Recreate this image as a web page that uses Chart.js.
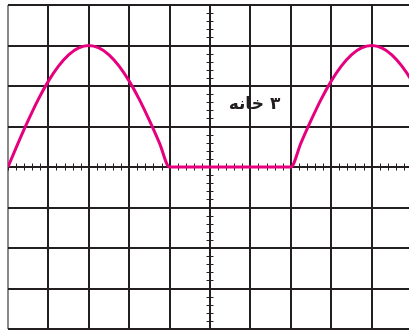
<!DOCTYPE html>
<html>
<head>
<meta charset="utf-8">
<script src="https://cdn.jsdelivr.net/npm/chart.js@4/dist/chart.umd.min.js"></script>
<style>
    html, body { margin: 0; padding: 0; background: #fff; }
    #wrap { width: 409px; height: 331px; overflow: hidden; }
</style>
</head>
<body>
<div id="wrap"><canvas id="scope" width="416" height="331"></canvas></div>
<script>
// positions in grid squares (x) and signal height in squares (y)
const waveX = [0, 0.25, 0.5, 0.75, 1, 1.25, 1.5, 1.75, 2, 2.25, 2.5, 2.75, 3, 3.25, 3.5, 3.75, 4,
    5, 6, 7, 7.25, 7.5, 7.75, 8, 8.25, 8.5, 8.75, 9, 9.25, 9.5, 9.75, 10, 10.25];
const waveY = [0, 0.59, 1.15, 1.67, 2.12, 2.49, 2.77, 2.94, 3, 2.94, 2.77, 2.49, 2.12, 1.67, 1.15, 0.59, 0,
    0, 0, 0, 0.59, 1.15, 1.67, 2.12, 2.49, 2.77, 2.94, 3, 2.94, 2.77, 2.49, 2.12, 1.67];
const xRange = [0, 10];
const yRange = [-4, 4];
const labelText = '۳ خانه';
const labelPos = [6.1, 1.55];

document.addEventListener('DOMContentLoaded', () => {
    const canvas = document.getElementById('scope');

    // small tick marks along the two centre axes, plus the label
    const axisTicks = {
        id: 'axisTicks',
        beforeDatasetsDraw(chart) {
            const { ctx, scales: { x, y } } = chart;
            const cx = x.getPixelForValue(5);
            const cy = y.getPixelForValue(0);
            ctx.save();
            ctx.strokeStyle = '#231f20';
            ctx.lineWidth = 1;
            ctx.beginPath();
            for (let i = 0; i <= 50; i++) {
                const px = Math.round(x.getPixelForValue(i / 5)) + 0.5;
                ctx.moveTo(px, cy - 3.5);
                ctx.lineTo(px, cy + 3.5);
            }
            for (let i = -20; i <= 20; i++) {
                const py = Math.round(y.getPixelForValue(i / 5)) + 0.5;
                ctx.moveTo(cx - 3.5, py);
                ctx.lineTo(cx + 3.5, py);
            }
            ctx.stroke();
            ctx.restore();
        },
        afterDatasetsDraw(chart) {
            const { ctx, scales: { x, y } } = chart;
            ctx.save();
            ctx.font = 'bold 17px "DejaVu Sans"';
            ctx.direction = 'rtl';
            ctx.textAlign = 'center';
            ctx.textBaseline = 'middle';
            ctx.fillStyle = '#231f20';
            ctx.fillText(labelText, x.getPixelForValue(labelPos[0]), y.getPixelForValue(labelPos[1]));
            ctx.restore();
        }
    };

    new Chart(canvas, {
        type: 'line',
        data: {
            datasets: [{
                data: waveX.map((v, i) => ({ x: v, y: waveY[i] })),
                borderColor: '#e6007e',
                borderWidth: 3,
                pointRadius: 0,
                cubicInterpolationMode: 'monotone',
                fill: false
            }]
        },
        options: {
            responsive: false,
            animation: false,
            layout: { padding: { left: 8, right: 4, top: 5, bottom: 2 } },
            plugins: { legend: { display: false }, tooltip: { enabled: false } },
            scales: {
                x: {
                    type: 'linear',
                    min: xRange[0],
                    max: xRange[1],
                    ticks: { display: false, stepSize: 1 },
                    grid: { color: ctx => ctx.index === 0 ? '#8a8a8a' : '#231f20', lineWidth: 2, drawTicks: false },
                    border: { display: false }
                },
                y: {
                    type: 'linear',
                    min: yRange[0],
                    max: yRange[1],
                    ticks: { display: false, stepSize: 1 },
                    grid: { color: '#231f20', lineWidth: 2, drawTicks: false },
                    border: { display: false }
                }
            }
        },
        plugins: [axisTicks]
    });
});
</script>
</body>
</html>
